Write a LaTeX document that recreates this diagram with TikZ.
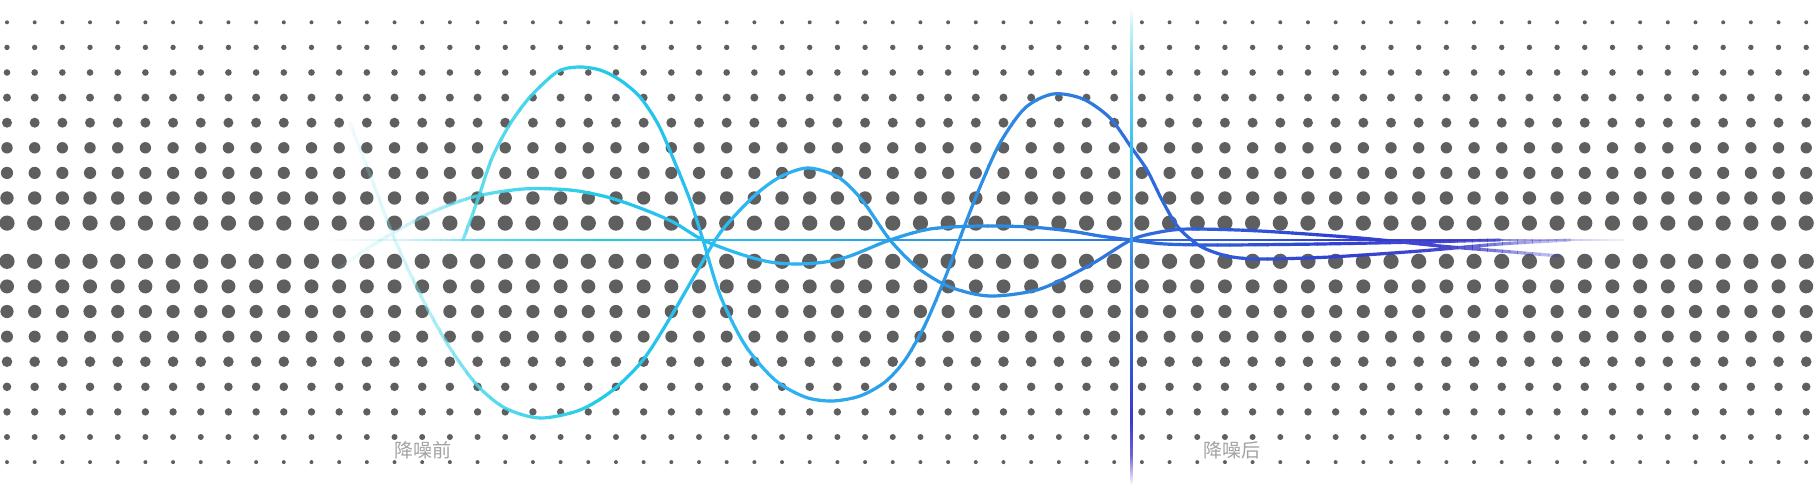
\documentclass[tikz,border=0pt]{standalone}
\usepackage{fontspec}
\newfontfamily\cjkfont{Noto Sans CJK SC}

\definecolor{dotgray}{HTML}{5F5F5F}
\definecolor{labelgray}{HTML}{A3A3A3}
\definecolor{wave1}{HTML}{8EE6F2}
\definecolor{wave2}{HTML}{45D6EC}
\definecolor{wave3}{HTML}{22CBE8}
\definecolor{wave4}{HTML}{2EB6F4}
\definecolor{wave5}{HTML}{2C9EE9}
\definecolor{wave6}{HTML}{2E82E0}
\definecolor{wave7}{HTML}{2F64DC}
\definecolor{wave8}{HTML}{3042D0}
\definecolor{wave9}{HTML}{3535C8}
\definecolor{axis1}{HTML}{C8F2F8}
\definecolor{axis2}{HTML}{7FDCF0}
\definecolor{axis3}{HTML}{32C0F2}
\definecolor{axis4}{HTML}{3A9AE8}
\definecolor{axis5}{HTML}{3066DC}
\definecolor{axis6}{HTML}{3A3AC8}
\definecolor{axis7}{HTML}{6A62D8}

\pgfdeclareverticalshading{axiscolors}{100bp}{color(0bp)=(white); color(25.3bp)=(white);
    color(28.4bp)=(axis7); color(32bp)=(axis6); color(41.2bp)=(axis5); color(50.4bp)=(axis4);
    color(59.6bp)=(axis3); color(67.8bp)=(axis2); color(72.4bp)=(axis1); color(74.2bp)=(white);
    color(100bp)=(white)}

\newcommand\wavepaths{
    plot[smooth] coordinates {(463,240) (478,199) (492,158) (510,124) (530,97) (557,72)
        (578,67) (600,70) (620,80) (640,97) (658,124) (673,158) (690,200) (703,240)
        (720,295) (745,345) (775,380) (805,397) (832,401) (860,396) (885,382) (905,360)
        (925,325) (945,278) (963,230) (980,187) (1000,143) (1025,108) (1053,94) (1083,99)
        (1110,118) (1131,147) (1147,170) (1162,200) (1178,227) (1200,246) (1227,256)
        (1260,259) (1330,257) (1420,251) (1500,244) (1570,240)}
    plot[smooth] coordinates {(350,123) (372,180) (395,240) (423,300) (450,348)
        (477,385) (505,408) (540,418) (580,410) (613,390) (643,360) (670,318) (695,275)
        (720,233) (753,197) (780,177) (808,168) (838,177) (862,200) (890,240) (918,268)
        (950,287) (990,296) (1040,289) (1090,265) (1131,240) (1160,232) (1190,229)
        (1260,231) (1360,238) (1440,246) (1500,251) (1560,256)}
    plot[smooth] coordinates {(336,271) (365,250) (393,233) (430,213)
        (473,197) (523,189) (570,190) (607,197) (640,208) (673,222) (703,240) (740,254)
        (770,262) (797,264) (825,262) (850,256) (890,240) (930,229) (980,226) (1030,227)
        (1070,231) (1100,236) (1131,240) (1165,244) (1220,245) (1320,244) (1420,242)
        (1500,240)}
}

\tikzset{
    wave/.style={line width=3.2pt, line cap=round},
    midline/.style={line width=2.2pt},
    noiselabel/.style={text=labelgray, inner sep=0pt, font=\cjkfont\fontsize{19}{19}\selectfont}
}

\begin{document}
\begin{tikzpicture}[x=1pt, y=-1pt]
    \useasboundingbox[fill=white] (0,0) rectangle (1815,488);

    \foreach \yy/\rr in {22.3/2.0, 47.4/2.7, 72.5/3.3, 97.6/4.0, 122.7/5.0, 147.8/5.7,
                         172.9/6.1, 198.0/6.7, 223.1/7.6, 261.3/7.6, 286.4/7.0, 311.5/6.6,
                         336.6/6.0, 361.7/5.3, 386.8/4.3, 411.9/3.7, 437.0/3.0, 462.1/2.0}
        \foreach \i in {0,...,65}
            \fill[dotgray] (7+27.68*\i, \yy) circle (\rr pt);

    \foreach \xa/\xb/\ca/\cb/\oa/\ob in {320/400/wave1/wave1/0/0.35, 400/480/wave1/wave2/0.35/0.85,
            480/600/wave2/wave3/0.85/1, 600/760/wave3/wave4/1/1, 760/900/wave4/wave5/1/1,
            900/1050/wave5/wave6/1/1, 1050/1180/wave6/wave7/1/1, 1180/1330/wave7/wave8/1/1,
            1330/1450/wave8/wave9/1/0.9, 1450/1540/wave9/wave9/0.9/0.35, 1540/1640/wave9/wave9/0.35/0}
        \foreach \k in {0,...,11} {
            \pgfmathsetmacro\pct{100-100*(\k+0.5)/12}
            \pgfmathsetmacro\op{\oa+(\ob-\oa)*(\k+0.5)/12}
            \pgfmathsetmacro\sx{\xa+(\xb-\xa)*\k/12-0.3}
            \pgfmathsetmacro\ex{\xa+(\xb-\xa)*(\k+1)/12+0.3}
            \colorlet{stripcolor}{\ca!\pct!\cb}
            \begin{scope}
                \clip (\sx,-10) rectangle (\ex,500);
                \draw[midline, stripcolor, opacity=\op] (331,240) -- (1625,240);
                \draw[wave, stripcolor, opacity=\op] \wavepaths;
            \end{scope}
        }

    \shade[shading=axiscolors] (1130.1,0) rectangle (1132.9,488);

    \node[noiselabel]   (before)  at (423,450)   {降噪前};
    \node[noiselabel]   (after)   at (1232,450)  {降噪后};
\end{tikzpicture}
\end{document}
